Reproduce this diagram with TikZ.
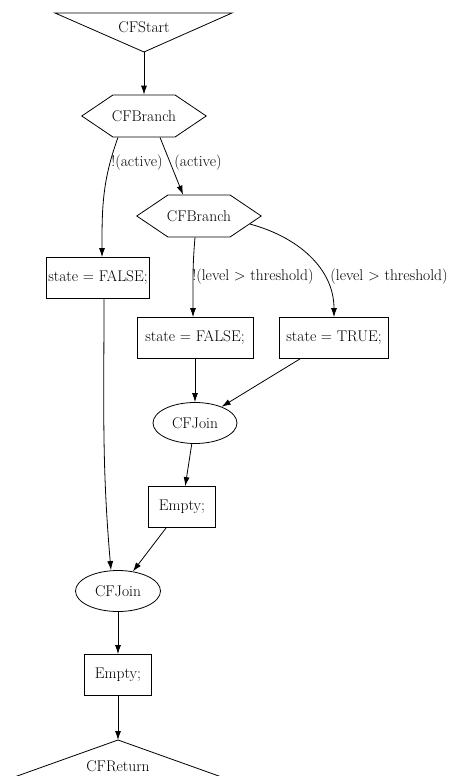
\documentclass[tikz,border=0pt]{standalone}
\usetikzlibrary{shapes.geometric}
\usetikzlibrary{shapes.symbols}
\usetikzlibrary{arrows.meta}
\tikzset{>={Latex[length=9pt,width=6pt]}}

\begin{document}
\begin{tikzpicture}[x=1pt, y=1pt, line width=0.8pt, font=\fontsize{15.5}{18}\selectfont]
\tikzset{stmt/.style={draw, rectangle, minimum height=41pt, inner sep=0pt},
         branch/.style={draw, signal, signal to=east and west, signal pointer angle=68,
                        minimum width=124pt, minimum height=42pt, inner ysep=0pt, inner xsep=-1pt},
         joinnode/.style={draw, ellipse, minimum width=85pt, minimum height=41pt, inner sep=0pt}}
    \useasboundingbox (0,0) rectangle (462,-776);
    \clip (0,0) rectangle (462,-776);

    \coordinate (st-tip) at (144,-52);
    \draw (55,-13) -- (232,-13) -- (st-tip) -- cycle;
    \node (st) at (144,-27) {CFStart};

    \node[branch] (br1) at (144,-116) {CFBranch};
    \node[branch] (br2) at (199,-216) {CFBranch};

    \node[stmt, minimum width=103pt] (f1) at (98,-278) {state = FALSE;};
    \node[stmt, minimum width=116pt] (f2) at (195,-338) {state = FALSE;};
    \node[stmt, minimum width=109pt] (t1) at (334,-338) {state = TRUE;};

    \node[joinnode, minimum width=84pt] (j1) at (195,-423) {CFJoin};
    \node[stmt, minimum width=67pt] (e1) at (182,-507) {Empty;};
    \node[joinnode] (j2) at (118,-591) {CFJoin};
    \node[stmt, minimum width=67pt] (e2) at (118,-675) {Empty;};

    \coordinate (ret-tip) at (118,-740);
    \draw (ret-tip) -- (258,-790) -- (-22,-790) -- cycle;
    \node (ret) at (118,-766) {CFReturn};
% % % % % % % % % % % % % % % % % % %
    \draw[->] (st-tip) -- (br1.north);
    \draw[->] ([xshift=-26pt]br1.south) to[out=-110, in=90] ([xshift=4pt]f1.north);
    \draw[->] ([xshift=16pt]br1.south) -- ([xshift=-16pt]br2.north);
    \draw[->] ([xshift=-4pt]br2.south) to[out=-95, in=90] ([xshift=-2pt]f2.north);
    \draw[->] (br2.-9) to[out=-15, in=90] (t1.north);
    \draw[->] (f2.south) -- (j1.north);
    \draw[->] ([xshift=-34pt]t1.south) -- (j1);
    \draw[->] (j1) -- (e1);
    \draw[->] (e1) -- (j2);
    \draw[->] ([xshift=6pt]f1.south) to[out=-90, in=95] ([xshift=-7pt]j2.north);
    \draw[->] (j2) -- (e2);
    \draw[->] (e2) -- (ret-tip);

    \node (lbl-na) at (137,-163) {!(active)};
    \node (lbl-a) at (198,-163) {(active)};
    \node (lbl-nl) at (253,-277) {!(level > threshold)};
    \node (lbl-l) at (389,-277) {(level > threshold)};
\end{tikzpicture}
\end{document}
